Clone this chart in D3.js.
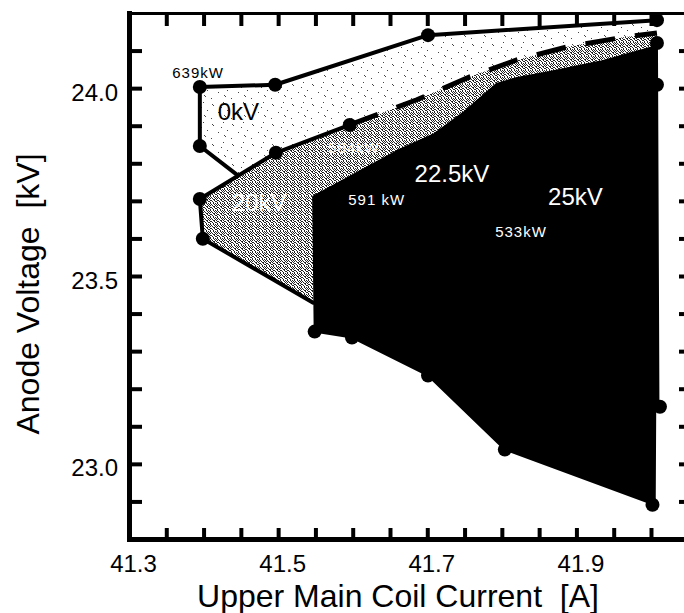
<!DOCTYPE html>
<html><head><meta charset="utf-8">
<script src="https://cdn.jsdelivr.net/npm/d3@7/dist/d3.min.js"></script>
<style>
html,body{margin:0;padding:0;background:#fff;}
svg{display:block;}
</style>
</head><body>
<svg id="chart" width="684" height="613"></svg>
<script>
// ---------- data ----------
const xTickLabels = [41.3, 41.5, 41.7, 41.9];
const yTickLabels = [23.0, 23.5, 24.0];
const xTickMarks = [41.35, 41.4, 41.45, 41.5, 41.55, 41.6, 41.65, 41.7, 41.75, 41.8, 41.85, 41.9, 41.95, 42.0];
const yTickMarks = [22.9, 23.0, 23.1, 23.2, 23.3, 23.4, 23.5, 23.6, 23.7, 23.8, 23.9, 24.0, 24.1];

// upper solid border of the 0 kV region
const top0kV = [[41.395, 24.003], [41.496, 24.009], [41.701, 24.141], [42.008, 24.181]];
// left border of the 0 kV region
const left0kV = [[41.395, 24.003], [41.395, 23.846], [41.445, 23.769]];
// upper border of the 20 kV region (solid part, then dashed part)
const upper20kVSolid = [[41.395, 23.705], [41.497, 23.828], [41.596, 23.902]];
const upper20kVDashed = [[41.596, 23.902], [41.686, 23.969], [41.757, 24.030], [41.820, 24.075], [41.888, 24.110], [41.958, 24.134], [42.008, 24.147]];
// left / lower border of the 20 kV region
const lower20kV = [[41.395, 23.705], [41.399, 23.599], [41.547, 23.429]];
// upper edge of the dark (22.5 kV / 25 kV) region
const topDark = [[41.547, 23.711], [41.663, 23.836], [41.708, 23.876], [41.750, 23.937], [41.793, 24.011], [41.820, 24.027], [41.864, 24.043], [41.931, 24.070], [42.008, 24.112]];
// lower edge of the 22.5 kV region
const bottom22kV = [[42.010, 23.152], [41.701, 23.235], [41.599, 23.336], [41.549, 23.352]];
// 25 kV region
const region25kV = [[41.700, 23.850], [41.790, 23.990], [42.008, 24.009], [42.005, 22.891], [41.804, 23.038], [41.701, 23.235]];

// measured operating points (filled circles)
const points = [
  [41.395, 24.003], [41.496, 24.009], [41.701, 24.141], [42.008, 24.181],
  [41.395, 23.846], [41.497, 23.828], [41.596, 23.902],
  [41.395, 23.705], [41.399, 23.599],
  [42.008, 24.120], [42.008, 24.009], [42.012, 23.152], [42.002, 22.891],
  [41.804, 23.038], [41.701, 23.235], [41.599, 23.336], [41.549, 23.352]
];

// annotations: text, anchor (data units), colour
const annotations = [
  {t: "639kW", x: 41.358, y: 24.027, c: "#000", big: false},
  {t: "0kV",   x: 41.419, y: 23.915, c: "#000", big: true},
  {t: "584kW", x: 41.567, y: 23.828, c: "#fff", big: false},
  {t: "20kV",  x: 41.438, y: 23.673, c: "#fff", big: true},
  {t: "591 kW",x: 41.594, y: 23.689, c: "#fff", big: false},
  {t: "22.5kV",x: 41.683, y: 23.751, c: "#fff", big: true},
  {t: "25kV",  x: 41.862, y: 23.689, c: "#fff", big: true},
  {t: "533kW", x: 41.791, y: 23.604, c: "#fff", big: false}
];

// ---------- drawing ----------
const FONT = "'Liberation Sans', Arial, Helvetica, sans-serif";
const svg = d3.select("#chart");
svg.append("rect").attr("width", 684).attr("height", 613).attr("fill", "#fff");

const x = d3.scaleLinear().domain([41.3, 42.055]).range([129, 692]);
const y = d3.scaleLinear().domain([22.8, 24.2]).range([539, 13]);

// textures
const defs = svg.append("defs");
function pixelPattern(id, rows, bg, fg) {
  const p = defs.append("pattern").attr("id", id).attr("patternUnits", "userSpaceOnUse")
    .attr("width", rows[0].length).attr("height", rows.length);
  p.append("rect").attr("width", rows[0].length).attr("height", rows.length).attr("fill", bg);
  rows.forEach((r, j) => r.split("").forEach((ch, i) => {
    if (ch === "1") p.append("rect").attr("x", i).attr("y", j).attr("width", 1).attr("height", 1).attr("fill", fg);
  }));
}
pixelPattern("grey", ["1001010", "0100101", "1010010", "0001101", "1100100", "0010011", "1001000"], "#fff", "#222");
pixelPattern("light", [
  "00000000000000000000", "00000000000000000000", "00010000000000000000", "00000000000000000000",
  "00000000000010000000", "00000000000001000000", "00000000000000000000", "01000000000000000000",
  "00000000000000000000", "00000000000000000000", "00000001000000000000", "00000000000000000000",
  "00000000000000000010", "00000000000000000000", "00000000000000000000", "00001000000000000000",
  "00000100000000000000", "00000000000000000000", "00000000000100000000", "00000000000000000000"],
  "#fff", "#444");

const line = d3.line().x(d => x(d[0])).y(d => y(d[1]));
const poly = pts => line(pts) + "Z";

// 0 kV region
const region0 = top0kV.concat(upper20kVDashed.slice().reverse(), upper20kVSolid.slice(1).reverse(), [[41.445, 23.769], [41.395, 23.846]]);
svg.append("path").attr("d", poly(region0)).attr("fill", "url(#light)");

// 20 kV region
const region20 = upper20kVSolid.concat(upper20kVDashed.slice(1), [[42.008, 24.120]], topDark.slice().reverse(), [[41.547, 23.429]], lower20kV.slice(1).reverse());
svg.append("path").attr("d", poly(region20)).attr("fill", "url(#grey)");

// 22.5 kV region and 25 kV region (both dark)
const region22 = topDark.concat([[42.008, 24.120]], bottom22kV);
svg.append("path").attr("d", poly(region22)).attr("fill", "#000").attr("stroke", "#000").attr("stroke-width", 2);
svg.append("path").attr("d", poly(region25kV)).attr("fill", "#000").attr("stroke", "#000").attr("stroke-width", 2);

// borders
const border = d => svg.append("path").attr("d", line(d)).attr("fill", "none").attr("stroke", "#000")
  .attr("stroke-width", 4).attr("stroke-linejoin", "round").attr("stroke-linecap", "round");
border(top0kV);
border(left0kV);
border(upper20kVSolid);
border(lower20kV);
svg.append("path").attr("d", line(upper20kVDashed)).attr("fill", "none").attr("stroke", "#000")
  .attr("stroke-width", 5).attr("stroke-dasharray", "30,20");

// points
svg.append("g").selectAll("circle").data(points).join("circle")
  .attr("cx", d => x(d[0])).attr("cy", d => y(d[1])).attr("r", 7).attr("fill", "#000");

// annotations
svg.append("g").selectAll("text").data(annotations).join("text")
  .attr("x", d => x(d.x)).attr("y", d => y(d.y))
  .attr("fill", d => d.c)
  .style("font-family", FONT)
  .style("font-size", d => (d.big ? 24 : 15) + "px")
  .style("letter-spacing", d => (d.big ? 0 : 1) + "px")
  .text(d => d.t);

// ---------- axes ----------
function styleAxis(g, w) {
  g.selectAll("path.domain").attr("stroke", "#000").attr("stroke-width", w).attr("stroke-linecap", "square");
  g.selectAll(".tick line").attr("stroke", "#000").attr("stroke-width", 4);
}
// left
const gl = svg.append("g").attr("transform", `translate(${x(41.3)},0)`)
  .call(d3.axisRight(y).tickValues(yTickMarks).tickSizeInner(13).tickSizeOuter(0).tickFormat(""));
styleAxis(gl, 5);
const gll = svg.append("g").attr("transform", `translate(${x(41.3)},0)`)
  .call(d3.axisLeft(y).tickValues(yTickLabels).tickSize(0).tickPadding(11).tickFormat(d3.format(".1f")));
gll.select(".domain").remove();
gll.selectAll("text").attr("dy", "0.5em").attr("fill", "#000")
  .style("font-family", FONT).style("font-size", "24px");
// bottom
const gb = svg.append("g").attr("transform", `translate(0,${y(22.8)})`)
  .call(d3.axisTop(x).tickValues(xTickMarks).tickSizeInner(11).tickSizeOuter(0).tickFormat(""));
styleAxis(gb, 5);
const gbl = svg.append("g").attr("transform", `translate(0,${y(22.8)})`)
  .call(d3.axisBottom(x).tickValues(xTickLabels).tickSize(0).tickPadding(16).tickFormat(d3.format(".1f")));
gbl.select(".domain").remove();
gbl.selectAll("text").attr("dx", 4).attr("fill", "#000")
  .style("font-family", FONT).style("font-size", "24px");
// top
const gt = svg.append("g").attr("transform", `translate(0,${y(24.2)})`)
  .call(d3.axisBottom(x).tickValues(xTickMarks).tickSizeInner(13).tickSizeOuter(0).tickFormat(""));
styleAxis(gt, 3);
// right
const gr = svg.append("g").attr("transform", `translate(${x(42.055)},0)`)
  .call(d3.axisLeft(y).tickValues(yTickMarks).tickSizeInner(13).tickSizeOuter(0).tickFormat(""));
styleAxis(gr, 4);

// axis titles
svg.append("text").attr("x", 398).attr("y", 607).attr("text-anchor", "middle")
  .style("font-family", FONT).style("font-size", "32px").style("white-space", "pre")
  .attr("fill", "#000").text("Upper Main Coil Current  [A]");
svg.append("text").attr("transform", "translate(39,294) rotate(-90)").attr("text-anchor", "middle")
  .style("font-family", FONT).style("font-size", "32px").style("white-space", "pre")
  .attr("fill", "#000").text("Anode Voltage  [kV]");
</script>
</body></html>
